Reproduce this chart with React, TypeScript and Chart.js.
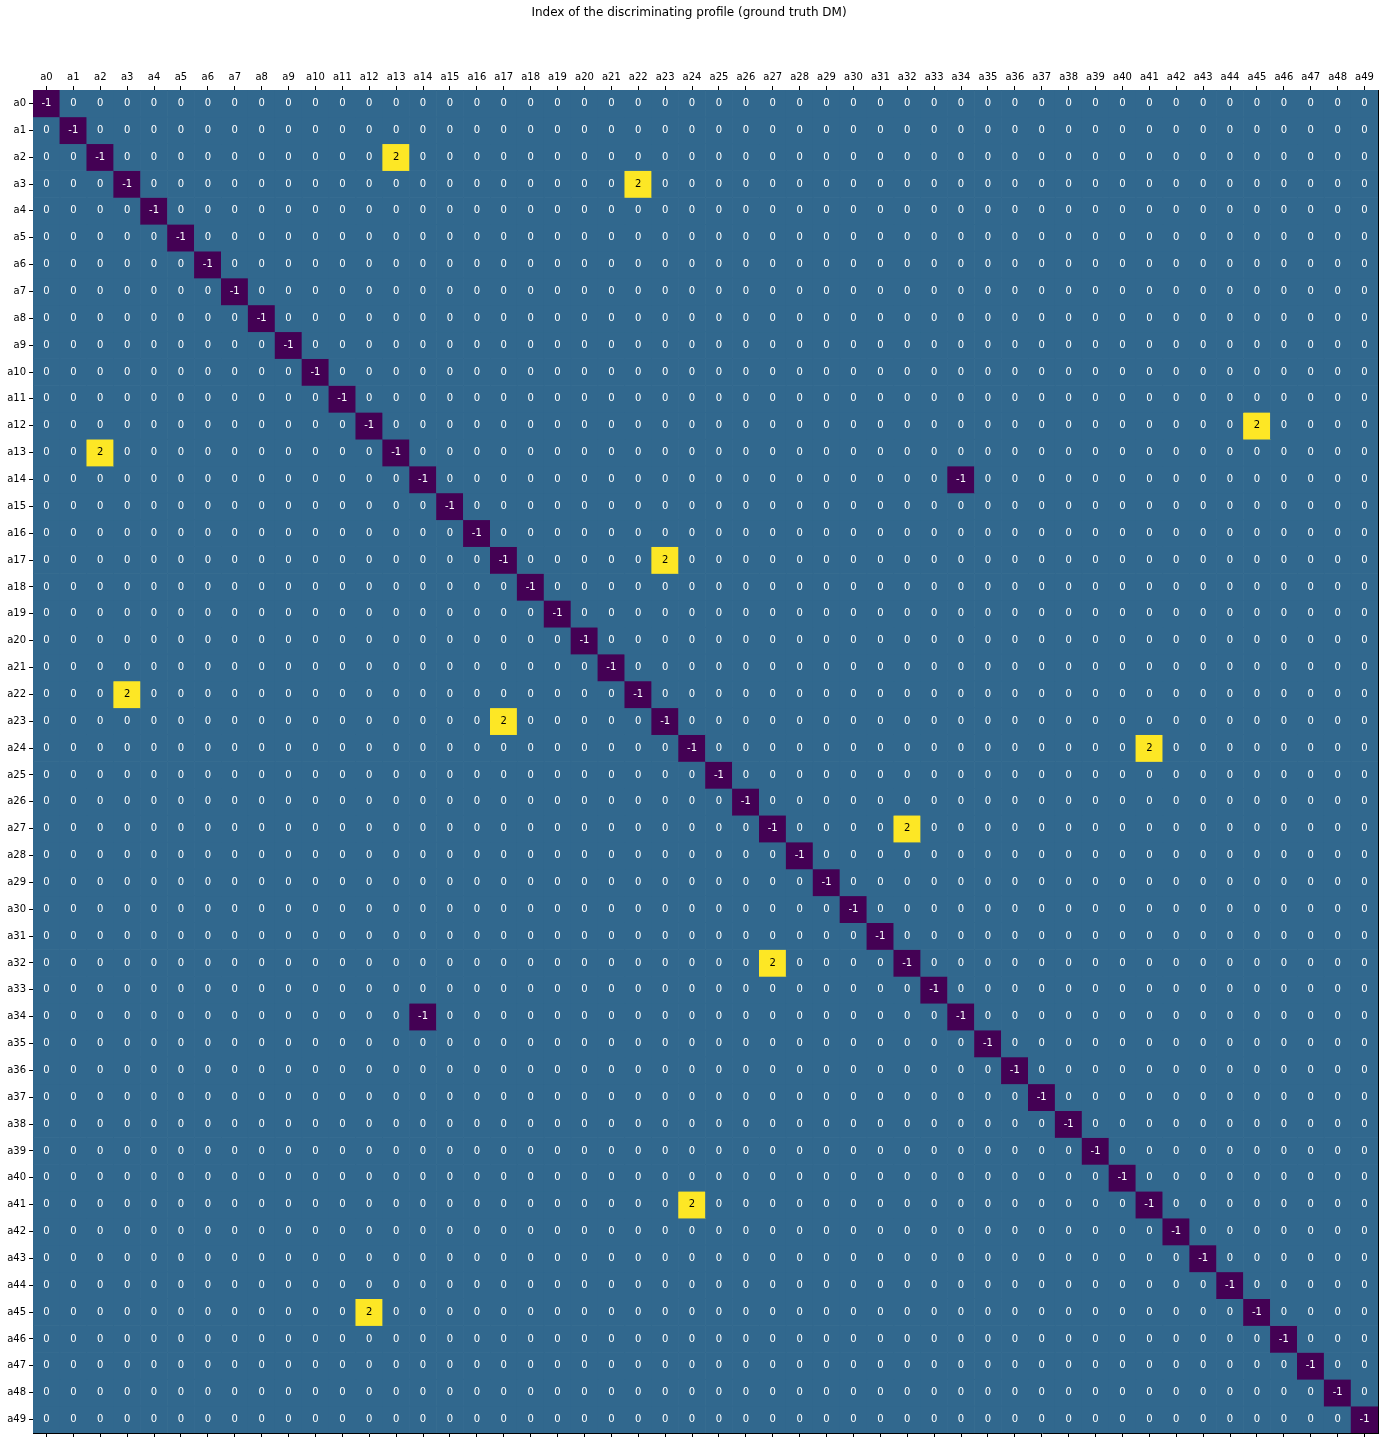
import React, { useEffect, useRef } from "react";
import { Chart, registerables } from "chart.js";

Chart.register(...registerables);

const colLabels = [
  "a0","a1","a2","a3","a4","a5","a6","a7","a8","a9",
  "a10","a11","a12","a13","a14","a15","a16","a17","a18","a19",
  "a20","a21","a22","a23","a24","a25","a26","a27","a28","a29",
  "a30","a31","a32","a33","a34","a35","a36","a37","a38","a39",
  "a40","a41","a42","a43","a44","a45","a46","a47","a48","a49",
];
const rowLabels = colLabels;

// Sparse list of non-zero cells: [row, col, value]; every other cell is 0
const nonZeroCells: [number, number, number][] = [
  [0,0,-1],[1,1,-1],[2,2,-1],[2,13,2],[3,3,-1],[3,22,2],[4,4,-1],[5,5,-1],
  [6,6,-1],[7,7,-1],[8,8,-1],[9,9,-1],[10,10,-1],[11,11,-1],[12,12,-1],[12,45,2],
  [13,2,2],[13,13,-1],[14,14,-1],[14,34,-1],[15,15,-1],[16,16,-1],[17,17,-1],[17,23,2],
  [18,18,-1],[19,19,-1],[20,20,-1],[21,21,-1],[22,3,2],[22,22,-1],[23,17,2],[23,23,-1],
  [24,24,-1],[24,41,2],[25,25,-1],[26,26,-1],[27,27,-1],[27,32,2],[28,28,-1],[29,29,-1],
  [30,30,-1],[31,31,-1],[32,27,2],[32,32,-1],[33,33,-1],[34,14,-1],[34,34,-1],[35,35,-1],
  [36,36,-1],[37,37,-1],[38,38,-1],[39,39,-1],[40,40,-1],[41,24,2],[41,41,-1],[42,42,-1],
  [43,43,-1],[44,44,-1],[45,12,2],[45,45,-1],[46,46,-1],[47,47,-1],[48,48,-1],[49,49,-1],
];

const colorFor = (v: number) => (v === -1 ? "#440154" : v === 2 ? "#fde725" : "#31688e");
const textColorFor = (v: number) => (v === 2 ? "#000000" : "#ffffff");

function valueAt(r: number, c: number): number {
  const hit = nonZeroCells.find((e) => e[0] === r && e[1] === c);
  return hit ? hit[2] : 0;
}

const FONT = "'DejaVu Sans', sans-serif";

export default function App() {
  const ref = useRef<HTMLCanvasElement | null>(null);

  useEffect(() => {
    if (!ref.current) return;
    const datasets = rowLabels.map((_, r) => {
      const vals = colLabels.map((_, c) => valueAt(r, c));
      return {
        label: rowLabels[r],
        data: vals.map(() => [r, r + 1]) as any,
        cellValues: vals,
        backgroundColor: vals.map(colorFor),
        borderWidth: 0,
        grouped: false,
        barPercentage: 1,
        categoryPercentage: 1,
      };
    });

    const labelPlugin = {
      id: "cellLabels",
      afterDatasetsDraw(chart: any) {
        const ctx = chart.ctx;
        ctx.save();
        ctx.font = `10px ${FONT}`;
        ctx.textAlign = "center";
        ctx.textBaseline = "middle";
        chart.data.datasets.forEach((ds: any, i: number) => {
          const meta = chart.getDatasetMeta(i);
          meta.data.forEach((el: any, j: number) => {
            const v = ds.cellValues[j];
            ctx.fillStyle = textColorFor(v);
            ctx.fillText(String(v), el.x, (el.y + el.base) / 2);
          });
        });
        ctx.restore();
      },
    };

    const chart = new Chart(ref.current, {
      type: "bar",
      data: { labels: colLabels, datasets: datasets as any },
      plugins: [labelPlugin],
      options: {
        animation: false,
        responsive: false,
        layout: { padding: { left: 0, right: 6, top: 0, bottom: 0 } },
        plugins: {
          legend: { display: false },
          tooltip: { enabled: false },
          title: {
            display: true,
            text: "Index of the discriminating profile (ground truth DM)",
            color: "#000",
            font: { family: FONT, size: 12, weight: "normal" },
            padding: { top: 6, bottom: 0 },
          },
        },
        scales: {
          x: {
            type: "category",
            position: "top",
            offset: true,
            grid: {
              display: true,
              offset: false,
              drawOnChartArea: false,
              drawTicks: true,
              tickLength: 4,
              tickColor: "#000",
            },
            border: { display: true, color: "#000", width: 1 },
            ticks: {
              autoSkip: false,
              maxRotation: 0,
              color: "#000",
              padding: 3,
              font: { family: FONT, size: 10 },
            },
            afterFit: (s: any) => {
              s.height = 69.6;
            },
          },
          x2: {
            type: "category",
            position: "bottom",
            labels: colLabels,
            offset: true,
            grid: {
              display: true,
              offset: false,
              drawOnChartArea: false,
              drawTicks: true,
              tickLength: 4,
              tickColor: "#000",
            },
            border: { display: true, color: "#000", width: 1 },
            ticks: { autoSkip: false, callback: () => "", font: { size: 1 } },
            afterFit: (s: any) => {
              s.height = 12;
            },
          },
          y: {
            type: "linear",
            min: 0,
            max: 50,
            reverse: true,
            afterBuildTicks: (s: any) => {
              s.ticks = rowLabels.map((_, i) => ({ value: i + 0.5 }));
            },
            grid: {
              display: true,
              drawOnChartArea: false,
              drawTicks: true,
              tickLength: 4,
              tickColor: "#000",
            },
            border: { display: true, color: "#000", width: 1 },
            ticks: {
              autoSkip: false,
              color: "#000",
              padding: 3,
              font: { family: FONT, size: 10 },
              callback: (v: any) => rowLabels[Math.floor(Number(v))],
            },
            afterFit: (s: any) => {
              s.width = 33;
            },
          },
          y2: {
            type: "linear",
            position: "right",
            min: 0,
            max: 50,
            display: true,
            grid: { display: false },
            ticks: { display: false },
            border: { display: true, color: "#000", width: 1 },
            afterFit: (s: any) => {
              s.width = 0;
            },
          },
        },
      } as any,
    });
    return () => chart.destroy();
  }, []);

  return (
    <div style={{ position: "absolute", left: 0, top: 0, width: 1384, height: 1445, background: "#fff" }}>
      <canvas ref={ref} width={1384} height={1445} />
    </div>
  );
}
